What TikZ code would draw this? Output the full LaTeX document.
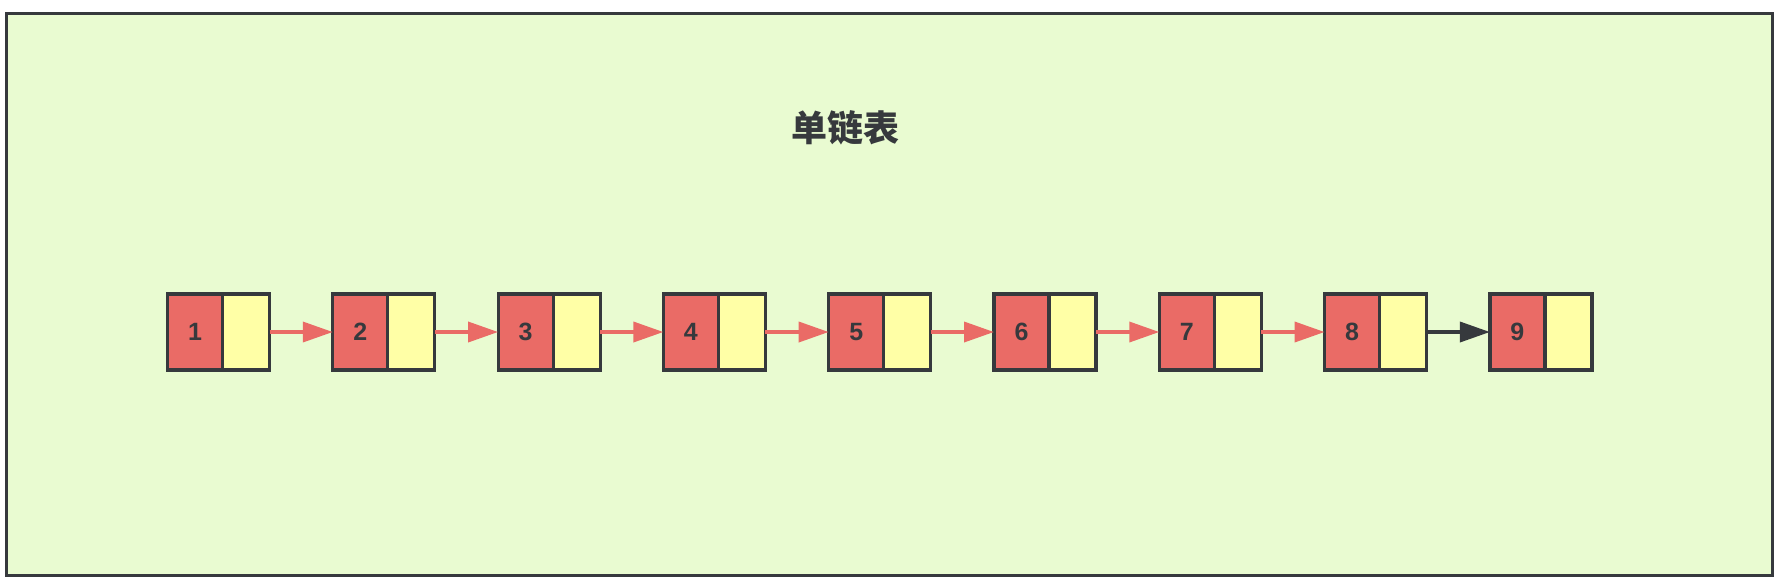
\documentclass[tikz,border=0pt]{standalone}
\usepackage{fontspec}
\setmainfont{Liberation Sans}
\newfontfamily\cjk{Noto Sans CJK SC}
\usepackage{tikz}
\usetikzlibrary{arrows.meta}
\usetikzlibrary{positioning}
\usepackage{xcolor}
\definecolor{bgGreen}{HTML}{E9FBD1}
\definecolor{cellRed}{HTML}{EA6B66}
\definecolor{cellYellow}{HTML}{FFFFA6}
\definecolor{inkDark}{HTML}{36393D}

\begin{document}
\begin{tikzpicture}[x=0.5pt, y=-0.5pt,
                datacell/.style={draw=inkDark, fill=cellRed, line width=1.6pt, minimum width=27.5pt, minimum height=38pt, inner sep=0pt, outer sep=0pt, text=inkDark, font=\bfseries\fontsize{12.5}{13}\selectfont},
                nextcell/.style={draw=inkDark, fill=cellYellow, line width=1.6pt, minimum width=23.5pt, minimum height=38pt, inner sep=0pt, outer sep=0pt},
                link/.style={-{Triangle[length=15pt, width=10pt]}, line width=1.8pt, color=cellRed},
                lastlink/.style={link, color=inkDark}]
                \useasboundingbox (0,0) rectangle (1784,586);

                % frame
                \draw[draw=inkDark, fill=bgGreen, line width=1.5pt] (6.5,13.5) rectangle (1772.5,575.5);
                \node[text=inkDark, font=\cjk\bfseries\fontsize{18}{20}\selectfont] (title) at (845,128) {单链表};

                % list cells
                \node[datacell] (d1) at (195,332) {1};
                \node[nextcell, right=0pt of d1] (p1) {};
                \node[datacell] (d2) at (360.3,332) {2};
                \node[nextcell, right=0pt of d2] (p2) {};
                \node[datacell] (d3) at (525.6,332) {3};
                \node[nextcell, right=0pt of d3] (p3) {};
                \node[datacell] (d4) at (690.9,332) {4};
                \node[nextcell, right=0pt of d4] (p4) {};
                \node[datacell] (d5) at (856.2,332) {5};
                \node[nextcell, right=0pt of d5] (p5) {};
                \node[datacell] (d6) at (1021.5,332) {6};
                \node[nextcell, right=0pt of d6] (p6) {};
                \node[datacell] (d7) at (1186.8,332) {7};
                \node[nextcell, right=0pt of d7] (p7) {};
                \node[datacell] (d8) at (1352.1,332) {8};
                \node[nextcell, right=0pt of d8] (p8) {};
                \node[datacell] (d9) at (1517.4,332) {9};
                \node[nextcell, right=0pt of d9] (p9) {};

                % pointers
                \draw[link] (p1) -- (d2);
                \draw[link] (p2) -- (d3);
                \draw[link] (p3) -- (d4);
                \draw[link] (p4) -- (d5);
                \draw[link] (p5) -- (d6);
                \draw[link] (p6) -- (d7);
                \draw[link] (p7) -- (d8);
                \draw[lastlink] (p8) -- (d9);

            \end{tikzpicture}
\end{document}
